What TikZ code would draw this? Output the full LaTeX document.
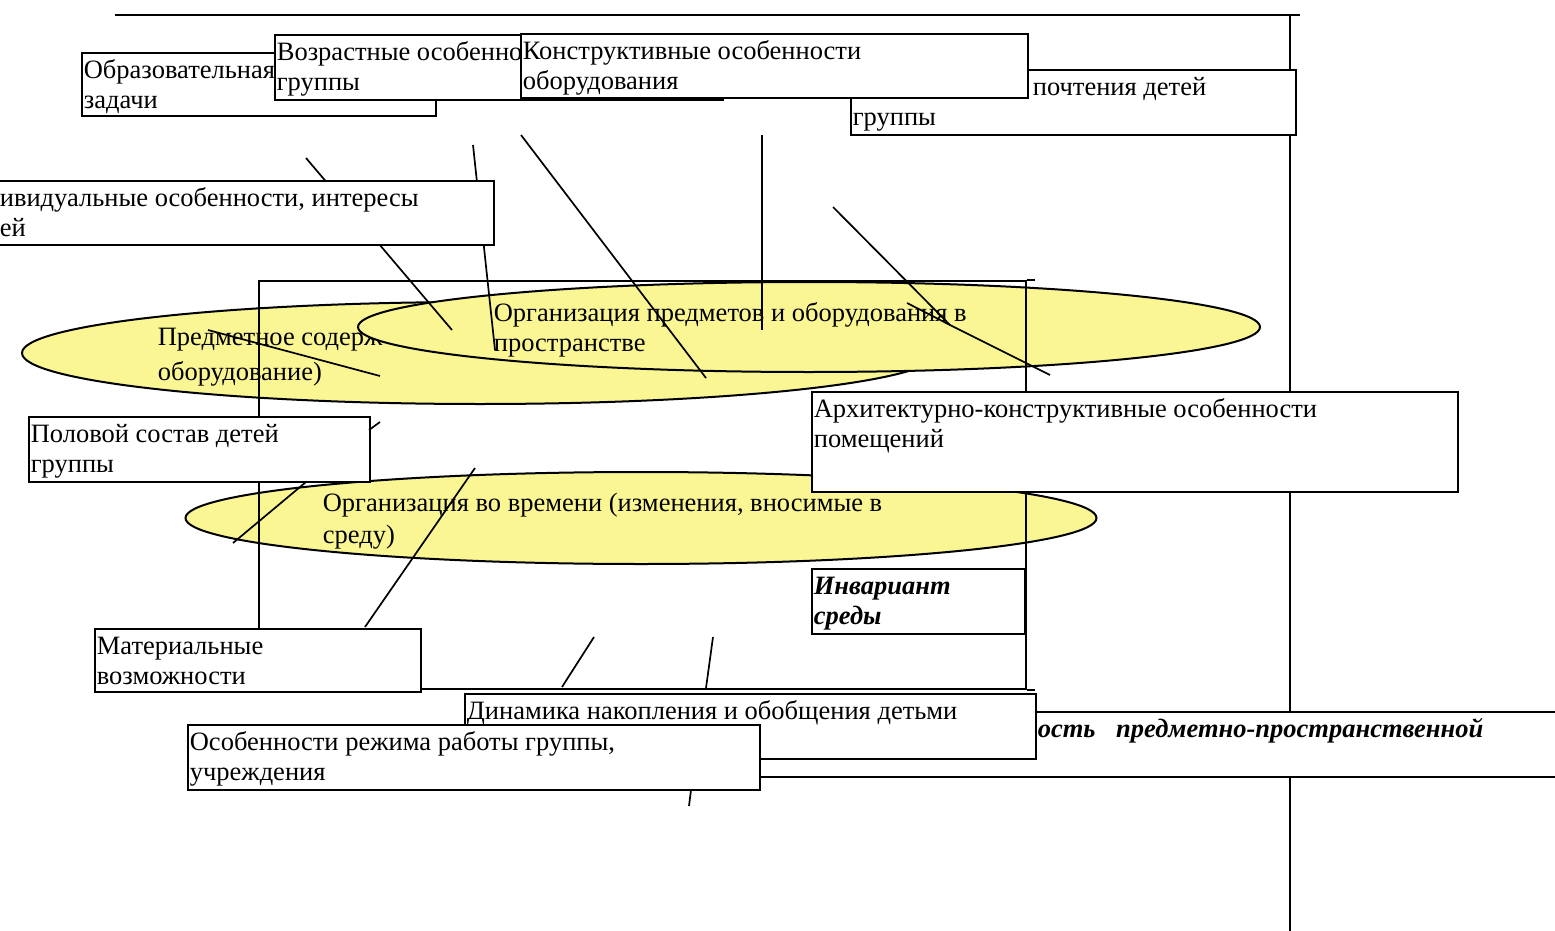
\documentclass[tikz,border=0pt]{standalone}
\usepackage{fontspec}
\setmainfont{Liberation Serif}
\usetikzlibrary{shapes.geometric}
\definecolor{ovalfill}{RGB}{250,246,148}
\newcommand\up{\rule{0pt}{22pt}}

\begin{document}
\begin{tikzpicture}[x=1pt,y=-1pt,line width=1.7pt,
  every node/.style={font=\fontsize{26.5}{30}\selectfont},
  box/.style={draw,fill=white,line width=2pt,anchor=north west,inner sep=0pt},
  txt/.style={anchor=north west,align=left,inner xsep=2pt,inner ysep=4pt},
  oval/.style={ellipse,draw,fill=ovalfill,line width=2pt,inner sep=0pt},
  otxt/.style={anchor=north west,align=left,inner sep=0pt}]

  \useasboundingbox (0,0) rectangle (1555,931);

  % outer lines
  \coordinate (t1) at (115,15);
  \coordinate (t2) at (1300,15);
  \coordinate (r1) at (1290,15);
  \coordinate (r2) at (1290,931);
  \draw (t1) -- (t2);
  \draw (r1) -- (r2);

  % top row of boxes
  \node[box,minimum width=354,minimum height=63,label={[txt]north west:{\up Образовательная\\задачи}}] (obr) at (81,52) {};
  \node[box,minimum width=448,minimum height=65,label={[txt]north west:{\up Возрастные особенно\\группы}}] (voz) at (274,34) {};
  \node[box,minimum width=445,minimum height=65,label={[txt]north west:{\up\hspace*{180pt}почтения детей\\группы}}] (pred) at (850,69) {};
  \node[box,minimum width=507,minimum height=64,label={[txt]north west:{\up Конструктивные особенности\\оборудования}}] (kon) at (520,33) {};

  % ovals
  \node[oval,minimum width=916,minimum height=102] (el1) at (480,353) {};
  \node[otxt,font=\fontsize{26.5}{35}\selectfont] (el1t) at (157,323) {\up Предметное содерж\\оборудование)};
  \node[oval,minimum width=902,minimum height=90] (el2) at (809,327) {};
  \node[otxt] (el2t) at (493,299) {\up Организация предметов и оборудования в\\пространстве};
  \node[oval,minimum width=911,minimum height=92] (el3) at (641,518) {};
  \node[otxt,font=\fontsize{26.5}{32}\selectfont] (el3t) at (322,489) {\up Организация во времени (изменения, вносимые в\\среду)};

  % lines
  \coordinate (a1) at (306,158);  \coordinate (a2) at (452,330);
  \coordinate (b1) at (473,145);  \coordinate (b2) at (495,350);
  \coordinate (c1) at (521,135);  \coordinate (c2) at (706,378);
  \coordinate (d1) at (762,135);  \coordinate (d2) at (762,330);
  \coordinate (e1) at (833,207);  \coordinate (e3) at (950,325);  \coordinate (e2) at (1050,375);
  \coordinate (e4) at (907,303);
  \coordinate (f1) at (208,330);  \coordinate (f2) at (380,376);
  \coordinate (g1) at (306,482);  \coordinate (g2) at (233,543);
  \coordinate (h1) at (475,468);  \coordinate (h2) at (365,627);
  \draw (a1) -- (a2);
  \draw (b1) -- (b2);
  \draw (c1) -- (c2);
  \draw (d1) -- (d2);
  \draw (e1) -- (e3) -- (e2);
  \draw (e4) -- (e3);
  \draw (f1) -- (f2);
  \draw (g1) -- (g2);
  \draw (h1) -- (h2);

  % frame round the ovals
  \node[draw,anchor=north west,inner sep=0pt,minimum width=767,minimum height=408] (frm) at (258,280) {};
  \draw (frm.north east) -- ++(8,0);
  \draw (frm.south east) -- ++(8,0);

  \node[box,minimum width=496,minimum height=64,label={[txt]north west:{\up ивидуальные особенности, интересы\\ей}}] (ind) at (-3,180) {};
  \node[box,minimum width=341,minimum height=65,label={[txt]north west:{\up Половой состав детей\\группы}}] (pol) at (28,416) {};
  \node[box,minimum width=646,minimum height=100,label={[txt]north west:{\up Архитектурно-конструктивные особенности\\помещений}}] (arh) at (811,391) {};
  \node[box,minimum width=213,minimum height=65,label={[txt,font=\fontsize{26.5}{30}\selectfont\bfseries\itshape]north west:{\up Инвариант\\среды}}] (inv) at (811,568) {};
  \node[box,minimum width=326,minimum height=63,label={[txt]north west:{\up Материальные\\возможности}}] (mat) at (94,628) {};

  \coordinate (k1) at (369,430);  \coordinate (k2) at (380,422);
  \coordinate (m1) at (594,637);  \coordinate (m2) at (562,687);
  \coordinate (n1) at (713,637);  \coordinate (n2) at (706,688);
  \coordinate (p1) at (691,790);  \coordinate (p2) at (689,806);
  \draw (k1) -- (k2);
  \draw (m1) -- (m2);
  \draw (n1) -- (n2);
  \draw (p1) -- (p2);

  % bottom boxes
  \node[box,minimum width=830,minimum height=65,label={[txt,font=\fontsize{26.5}{30}\selectfont\bfseries\itshape]north west:{\up\hspace*{295pt}ость\hspace{14pt} предметно-пространственной}}] (var) at (740,711) {};
  \node[box,minimum width=571,minimum height=65,label={[txt]north west:{\up Динамика накопления и обобщения детьми}}] (din) at (464,693) {};
  \node[box,minimum width=572,minimum height=65,label={[txt]north west:{\up Особенности режима работы группы,\\учреждения}}] (osob) at (187,724) {};
\end{tikzpicture}
\end{document}
